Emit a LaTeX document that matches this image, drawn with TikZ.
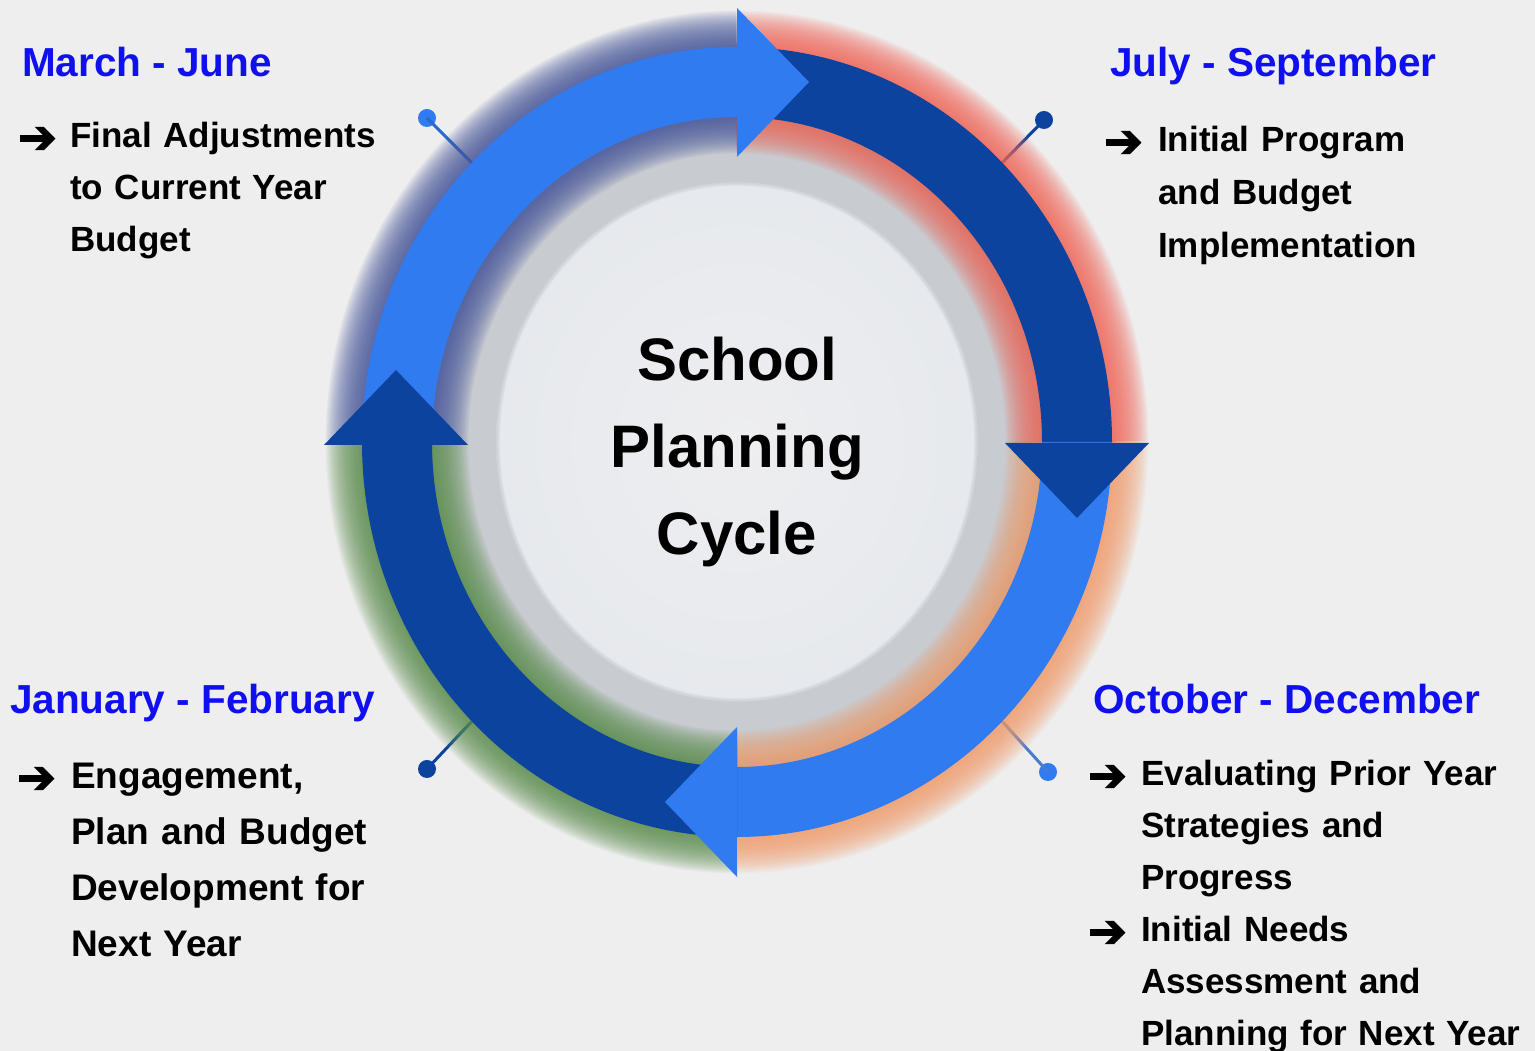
\documentclass[tikz,border=0pt]{standalone}
\usepackage{fontspec}
\setmainfont{Liberation Sans}
\newfontfamily\arrowfont[FakeBold=3]{DejaVu Sans}
\definecolor{bg}{HTML}{EEEEEE}
\definecolor{lightblue}{HTML}{317BF1}
\definecolor{darkblue}{HTML}{0B439F}
\definecolor{headblue}{HTML}{0F0FF0}
\definecolor{bandgray}{HTML}{C8CBD0}
\definecolor{disc}{HTML}{E6E9ED}
\definecolor{discc}{HTML}{EEEEF0}
\definecolor{glowTL}{HTML}{4A5A9E}
\definecolor{glowTR}{HTML}{EE6A5C}
\definecolor{glowBR}{HTML}{EEA070}
\definecolor{glowBL}{HTML}{5E9050}
\tikzset{
  head/.style={font=\fontsize{40.5}{48}\selectfont\bfseries, text=headblue, inner sep=0pt, anchor=base west},
  bodytext/.style={font=\fontsize{35}{52}\selectfont\bfseries, text=black, inner sep=0pt, anchor=base west, text width=420pt, align=left},
  bul/.style={font=\arrowfont\fontsize{46}{46}\selectfont, text=black, inner sep=0pt, anchor=base west},
  dotnode/.style={circle, inner sep=0pt, minimum size=18pt},
  glowstep/.style={line width={(70+2.6*#1)*1pt}, draw opacity=0.062},
}
\begin{document}
\begin{tikzpicture}[x=1pt,y=1pt]
\useasboundingbox (0,0) rectangle (1535,1051);
\fill[bg] (0,0) rectangle (1535,1051);

% connectors (ring point -> dot)
\coordinate (aTL) at (474,886);
\coordinate (aTR) at (1000,886);
\coordinate (aBR) at (1000,332);
\coordinate (aBL) at (474,332);
\node[dotnode, fill=lightblue] (dTL) at (427,933) {};
\node[dotnode, fill=darkblue] (dTR) at (1044,931) {};
\node[dotnode, fill=lightblue] (dBR) at (1048,279) {};
\node[dotnode, fill=darkblue] (dBL) at (427,282) {};
\draw[lightblue!85!black, line width=3pt] (aTL) -- (dTL.center);
\draw[darkblue, line width=3pt] (aTR) -- (dTR.center);
\draw[lightblue!70!gray, line width=3pt] (aBR) -- (dBR.center);
\draw[darkblue, line width=3pt] (aBL) -- (dBL.center);

% gray band and inner disc
\fill[bandgray] (737,609) ellipse[x radius=312, y radius=332];
\shade[inner color=discc, outer color=disc] (737,609) ellipse[x radius=241, y radius=260];
\foreach \k in {1,...,5}{
  \draw[bandgray, line width={(1.6*\k)*1pt}, draw opacity=0.22] (737,609) ellipse[x radius=241, y radius=260];
}

% glows
\foreach \k in {1,...,28}{
  \draw[glowTL, glowstep=\k] (397,609) arc[start angle=180, end angle=90, x radius=340, y radius=360];
  \draw[glowTR, glowstep=\k] (737,969) arc[start angle=90, end angle=0, x radius=340, y radius=360];
  \draw[glowBR, glowstep=\k] (1077,609) arc[start angle=0, end angle=-90, x radius=340, y radius=360];
  \draw[glowBL, glowstep=\k] (737,249) arc[start angle=-90, end angle=-180, x radius=340, y radius=360];
}

% ring segments
\fill[lightblue] (362,609) arc[start angle=180, end angle=90, x radius=375, y radius=395]
  -- (737,934) arc[start angle=90, end angle=180, x radius=305, y radius=325] -- cycle;
\fill[darkblue] (737,1004) arc[start angle=90, end angle=0, x radius=375, y radius=395]
  -- (1042,609) arc[start angle=0, end angle=90, x radius=305, y radius=325] -- cycle;
\fill[lightblue] (1112,609) arc[start angle=0, end angle=-90, x radius=375, y radius=395]
  -- (737,284) arc[start angle=-90, end angle=0, x radius=305, y radius=325] -- cycle;
\fill[darkblue] (737,214) arc[start angle=-90, end angle=-180, x radius=375, y radius=395]
  -- (432,609) arc[start angle=-180, end angle=-90, x radius=305, y radius=325] -- cycle;

% arrowheads
\fill[lightblue] (737,1043) -- (809,969) -- (737,894) -- cycle;
\fill[darkblue] (1005,608) -- (1149,608) -- (1077,533) -- cycle;
\fill[lightblue] (737,324) -- (737,174) -- (665,249) -- cycle;
\fill[darkblue] (324,606) -- (468,606) -- (396,681) -- cycle;

% centre title
\node[font=\fontsize{60}{87}\selectfont\bfseries, inner sep=0pt, anchor=base, text width=400pt, align=center] (title) at (737,670) {School\\Planning\\Cycle};

% March - June
\node[head] (hMJ) at (22,974) {March - June};
\node[bul] (bMJ) at (18,898) {➔};
\node[bodytext] (tMJ) at (70,903) {Final Adjustments\\to Current Year\\Budget};

% July - September
\node[head] (hJS) at (1110,974) {July - September};
\node[bul] (bJS) at (1104,894) {➔};
\node[bodytext, font=\fontsize{35}{53}\selectfont\bfseries] (tJS) at (1158,899) {Initial Program\\and Budget\\Implementation};

% January - February
\node[head] (hJF) at (10,337) {January - February};
\node[bul] (bJF) at (17,258) {➔};
\node[bodytext, font=\fontsize{37}{56}\selectfont\bfseries] (tJF) at (71,262) {Engagement,\\Plan and Budget\\Development for\\Next Year};

% October - December
\node[head] (hOD) at (1093,337) {October - December};
\node[bul] (bOD1) at (1088,260) {➔};
\node[bul] (bOD2) at (1088,104) {➔};
\node[bodytext] (tOD) at (1141,265) {Evaluating Prior Year\\Strategies and\\Progress\\Initial Needs\\Assessment and\\Planning for Next Year};
\end{tikzpicture}
\end{document}
